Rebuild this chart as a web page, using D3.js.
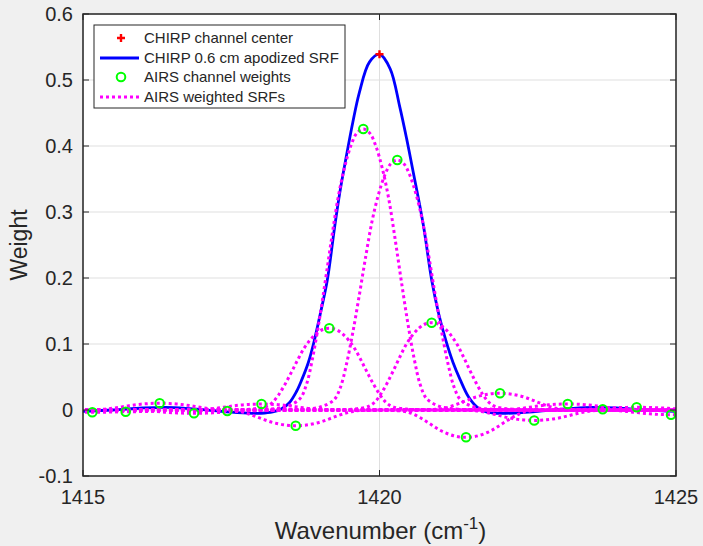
<!DOCTYPE html>
<html>
<head>
<meta charset="utf-8">
<script src="https://d3js.org/d3.v7.min.js"></script>
<style>
  body { margin: 0; background: #f0f0f0; }
  text { font-family: "Liberation Sans", Arial, Helvetica, sans-serif; fill: #262626; }
</style>
</head>
<body>
<script>

// ---- data ----

// CHIRP channel center
var chirpCenter = [1420.0];
var chirpPeak = [0.539];

// CHIRP 0.6 cm apodized SRF (sampled along the curve)
var chirpWn = [1415.0, 1415.5, 1416.0, 1416.4, 1416.8, 1417.2, 1417.6, 1418.0, 1418.2, 1418.35,
               1418.48, 1418.6, 1418.69, 1418.8, 1418.9, 1419.0, 1419.12, 1419.24, 1419.33, 1419.44,
               1419.55, 1419.66, 1419.83, 1420.0, 1420.18, 1420.34, 1420.46, 1420.57, 1420.74, 1420.88,
               1421.0, 1421.12, 1421.24, 1421.36, 1421.5, 1421.65, 1421.8, 1422.0, 1422.4, 1422.8,
               1423.2, 1423.6, 1424.0, 1424.5, 1425.0];
var chirpSrf = [-0.002, 0.0, 0.003, 0.004, 0.002, -0.001, -0.004, -0.005, -0.003, 0.002,
                0.011, 0.028, 0.046, 0.072, 0.105, 0.145, 0.197, 0.275, 0.329, 0.384,
                0.436, 0.481, 0.527, 0.539, 0.517, 0.460, 0.410, 0.360, 0.280, 0.197,
                0.145, 0.105, 0.072, 0.046, 0.020, 0.004, -0.003, -0.005, -0.004, -0.001,
                0.002, 0.004, 0.003, 0.0, -0.002];

// AIRS channel centers and weights
var airsWn = [1415.157, 1415.720, 1416.293, 1416.872, 1417.433, 1418.010, 1418.587, 1419.153, 1419.727,
              1420.300, 1420.880, 1421.459, 1422.032, 1422.609, 1423.174, 1423.764, 1424.337, 1424.916];
var airsWeight = [-0.0035, -0.0026, 0.0102, -0.005, -0.0015, 0.009, -0.0238, 0.1238, 0.4258,
                  0.3788, 0.1323, -0.0414, 0.0253, -0.0158, 0.0091, 0.0011, 0.0041, -0.0071];

// normalized AIRS SRF shape (offset from channel center in cm-1)
var srfOffset = [-2.1, -1.6, -1.3, -1.07, -0.96, -0.86, -0.75, -0.64, -0.535, -0.43, -0.32, -0.21, -0.11, 0,
                 0.11, 0.21, 0.32, 0.43, 0.535, 0.64, 0.75, 0.86, 0.96, 1.07, 1.3, 1.6, 2.1];
var srfShape = [0, 0.003, 0.012, 0.04, 0.09, 0.18, 0.31, 0.46, 0.61, 0.75, 0.86, 0.94, 0.985, 1,
                0.985, 0.94, 0.86, 0.75, 0.61, 0.46, 0.31, 0.18, 0.09, 0.04, 0.012, 0.003, 0];

var xTicks = [1415, 1420, 1425];
var yTicks = [-0.1, 0, 0.1, 0.2, 0.3, 0.4, 0.5, 0.6];
var yTickLabels = ["-0.1", "0", "0.1", "0.2", "0.3", "0.4", "0.5", "0.6"];

var legendLabels = ["CHIRP channel center", "CHIRP 0.6 cm apodized SRF",
                    "AIRS channel weights", "AIRS weighted SRFs"];

// ---- layout ----
var W = 703, H = 546;
var margin = {top: 14, right: 27, bottom: 70, left: 83},
    width = W - margin.left - margin.right,
    height = H - margin.top - margin.bottom;

var axisColor = "#262626", gridColor = "#dfdfdf";

var x = d3.scaleLinear().domain([1415, 1425]).range([0, width]);
var y = d3.scaleLinear().domain([-0.1, 0.6]).range([height, 0]);

var svg = d3.select("body").append("svg")
    .attr("width", W)
    .attr("height", H)
  .append("g")
    .attr("transform", "translate(" + margin.left + "," + margin.top + ")");

svg.append("defs").append("clipPath").attr("id", "plotclip")
  .append("rect").attr("width", width).attr("height", height);

// plot background
svg.append("rect")
    .attr("width", width)
    .attr("height", height)
    .attr("fill", "white");

// grid
svg.append("g").selectAll("line").data(yTicks).join("line")
    .attr("x1", 0).attr("x2", width)
    .attr("y1", function(d) { return y(d); }).attr("y2", function(d) { return y(d); })
    .attr("stroke", gridColor).attr("stroke-width", 1);
svg.append("g").selectAll("line").data(xTicks).join("line")
    .attr("y1", 0).attr("y2", height)
    .attr("x1", function(d) { return x(d); }).attr("x2", function(d) { return x(d); })
    .attr("stroke", gridColor).attr("stroke-width", 1);

var plot = svg.append("g").attr("clip-path", "url(#plotclip)");

// blue CHIRP SRF
var chirpPts = chirpWn.map(function(v, i) { return [v, chirpSrf[i]]; });
var line = d3.line()
    .x(function(d) { return x(d[0]); })
    .y(function(d) { return y(d[1]); })
    .curve(d3.curveCatmullRom.alpha(0.5));

plot.append("path")
    .datum(chirpPts)
    .attr("fill", "none")
    .attr("stroke", "#0000ff")
    .attr("stroke-width", 2.8)
    .attr("d", line);

// AIRS weighted SRFs (weight times the SRF shape around each center)
var weighted = airsWn.map(function(c, i) {
  var pts = [[1412, 0]];
  srfOffset.forEach(function(o, j) { pts.push([c + o, airsWeight[i] * srfShape[j]]); });
  pts.push([1428, 0]);
  return pts.sort(function(a, b) { return a[0] - b[0]; });
});

plot.append("g").selectAll("path").data(weighted).join("path")
    .attr("fill", "none")
    .attr("stroke", "#ff00ff")
    .attr("stroke-width", 3)
    .attr("stroke-dasharray", "3,3")
    .attr("d", line);

// AIRS channel weights
plot.append("g").selectAll("circle").data(airsWn).join("circle")
    .attr("cx", function(d) { return x(d); })
    .attr("cy", function(d, i) { return y(airsWeight[i]); })
    .attr("r", 4.3)
    .attr("fill", "none")
    .attr("stroke", "#00ff00")
    .attr("stroke-width", 2);

// red plus at CHIRP center
function plus(g, cx, cy) {
  g.append("path")
    .attr("d", "M" + (cx - 4) + "," + cy + "H" + (cx + 4) + "M" + cx + "," + (cy - 4) + "V" + (cy + 4))
    .attr("stroke", "#ff0000")
    .attr("stroke-width", 2.4)
    .attr("fill", "none");
}
chirpCenter.forEach(function(c, i) { plus(plot, x(c), y(chirpPeak[i])); });

// axes box + ticks (inward, mirrored)
svg.append("rect")
    .attr("width", width).attr("height", height)
    .attr("fill", "none").attr("stroke", axisColor).attr("stroke-width", 1.5);

var tl = 6;
yTicks.forEach(function(d, i) {
  svg.append("line").attr("x1", 0).attr("x2", tl).attr("y1", y(d)).attr("y2", y(d))
     .attr("stroke", axisColor).attr("stroke-width", 1);
  svg.append("line").attr("x1", width - tl).attr("x2", width).attr("y1", y(d)).attr("y2", y(d))
     .attr("stroke", axisColor).attr("stroke-width", 1);
  svg.append("text")
     .attr("x", -10).attr("y", y(d))
     .attr("dy", "0.35em")
     .style("text-anchor", "end")
     .style("font-size", "20px")
     .text(yTickLabels[i]);
});
xTicks.forEach(function(d) {
  svg.append("line").attr("x1", x(d)).attr("x2", x(d)).attr("y1", height).attr("y2", height - tl)
     .attr("stroke", axisColor).attr("stroke-width", 1);
  svg.append("line").attr("x1", x(d)).attr("x2", x(d)).attr("y1", 0).attr("y2", tl)
     .attr("stroke", axisColor).attr("stroke-width", 1);
  svg.append("text")
     .attr("x", x(d)).attr("y", height + 28)
     .style("text-anchor", "middle")
     .style("font-size", "20px")
     .text(d);
});

// axis labels
var xl = svg.append("text")
    .attr("x", width / 2 + 1).attr("y", height + 63)
    .style("text-anchor", "middle")
    .style("font-size", "24px");
xl.append("tspan").text("Wavenumber (cm");
xl.append("tspan").attr("dy", -10).style("font-size", "17px").text("-1");
xl.append("tspan").attr("dy", 10).text(")");

svg.append("text")
    .attr("transform", "translate(" + (27 - margin.left) + "," + (height / 2) + ") rotate(-90)")
    .style("text-anchor", "middle")
    .style("font-size", "23px")
    .text("Weight");

// legend
var lg = svg.append("g").attr("transform", "translate(" + (94 - margin.left) + "," + (25 - margin.top) + ")");
lg.append("rect")
    .attr("width", 251).attr("height", 83)
    .attr("fill", "white").attr("stroke", axisColor).attr("stroke-width", 1);

var rowY = [13, 33, 52, 72];
plus(lg, 27, rowY[0]);
lg.append("line").attr("x1", 6).attr("x2", 45).attr("y1", rowY[1]).attr("y2", rowY[1])
  .attr("stroke", "#0000ff").attr("stroke-width", 2.8);
lg.append("circle").attr("cx", 27).attr("cy", rowY[2]).attr("r", 4.3)
  .attr("fill", "none").attr("stroke", "#00ff00").attr("stroke-width", 2);
lg.append("line").attr("x1", 6).attr("x2", 45).attr("y1", rowY[3]).attr("y2", rowY[3])
  .attr("stroke", "#ff00ff").attr("stroke-width", 3).attr("stroke-dasharray", "3,3");

lg.selectAll("text.lab").data(legendLabels).join("text")
    .attr("class", "lab")
    .attr("x", 50)
    .attr("y", function(d, i) { return rowY[i]; })
    .attr("dy", "0.35em")
    .style("font-size", "15px")
    .text(function(d) { return d; });

</script>
</body>
</html>
